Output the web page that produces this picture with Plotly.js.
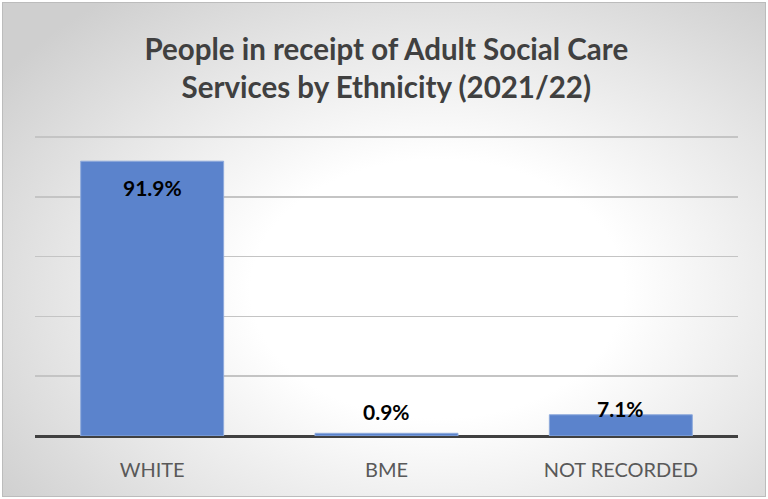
<!DOCTYPE html>
<html>
<head>
<meta charset="utf-8">
<script src="https://cdn.plot.ly/plotly-3.0.1.min.js"></script>
<style>
  html, body { margin: 0; padding: 0; background: #ffffff; }
  #wrap {
    position: absolute; left: 2px; top: 2px; width: 762px; height: 493px;
    border: 1px solid #bcbcbc;
    background: radial-gradient(ellipse 70% 75% at 57% 58%, #ffffff 0%, #ffffff 35%, #e6e6e6 70%, #cfcfcf 100%);
  }
  #chart { position: absolute; left: -3px; top: -3px; width: 768px; height: 499px; }
</style>
</head>
<body>
<div id="wrap"><div id="chart"></div></div>
<script>
const categories = ["WHITE", "BME", "NOT RECORDED"];
const values = [91.9, 0.9, 7.1];
const labels = ["91.9%", "0.9%", "7.1%"];
const labelYShift = [-26, 22, 6];

const trace = {
  type: "bar",
  x: categories,
  y: values,
  marker: { color: "#5b83cc", line: { color: "#8eaadc", width: 1 } },
  hoverinfo: "skip"
};

const annotations = categories.map((c, i) => ({
  x: c, y: values[i], xref: "x", yref: "y",
  text: "<b>" + labels[i] + "</b>",
  showarrow: false, yshift: labelYShift[i],
  font: { family: "Lato, 'Open Sans', sans-serif", size: 21, color: "#000000" }
}));

const layout = {
  width: 768, height: 499,
  paper_bgcolor: "rgba(0,0,0,0)",
  plot_bgcolor: "rgba(0,0,0,0)",
  margin: { l: 35, r: 30, t: 131, b: 63 },
  bargap: 0.39,
  showlegend: false,
  title: {
    text: "<b>People in receipt of Adult Social Care<br>Services by Ethnicity (2021/22)</b>",
    x: 0.503, xanchor: "center", y: 0.88, yanchor: "middle",
    font: { family: "Lato, 'Open Sans', sans-serif", size: 29.5, color: "#404040" }
  },
  xaxis: {
    showgrid: false, showline: false, zeroline: false,
    ticks: "", ticklabelstandoff: 20,
    tickfont: { family: "Lato, 'Open Sans', sans-serif", size: 20, color: "#595959" }
  },
  yaxis: {
    range: [0, 102], tickvals: [20, 40, 60, 80, 100], showticklabels: false,
    showgrid: true, gridcolor: "#c4c4c4", gridwidth: 1.5,
    zeroline: true, zerolinecolor: "#404040", zerolinewidth: 3,
    showline: false, ticks: ""
  },
  annotations: annotations
};

Plotly.newPlot("chart", [trace], layout, { displayModeBar: false, staticPlot: true });
</script>
</body>
</html>
